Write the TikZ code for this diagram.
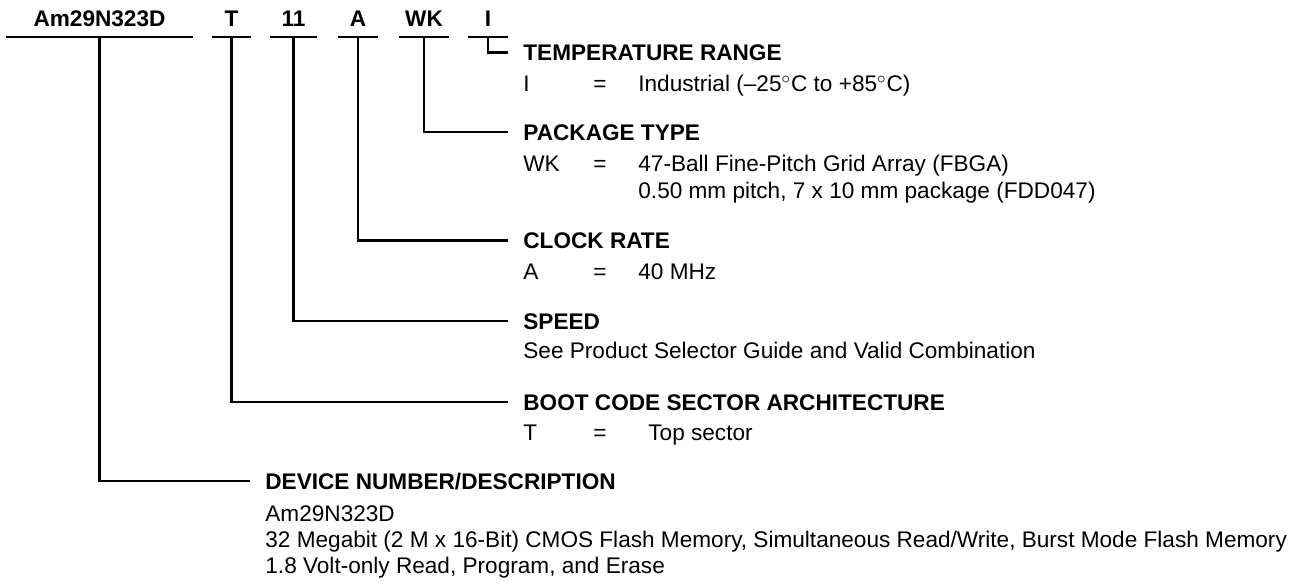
\documentclass[tikz,border=0pt]{standalone}
\usepackage{fontspec}
\setmainfont{Liberation Sans}
\usetikzlibrary{positioning}

\newcommand{\pnfont}{\fontsize{11.3pt}{13.6pt}\selectfont}
\newcommand{\keyval}[2]{\makebox[35pt][l]{#1}\makebox[22.5pt][l]{=}#2}

\tikzset{
  code/.style={font=\pnfont\bfseries, anchor=south, inner xsep=0pt, inner ysep=5pt, text height=8.1pt, text depth=0pt},
  head/.style={font=\pnfont\bfseries, anchor=west, inner sep=0pt, text height=8.1pt, text depth=0pt},
  body/.style={font=\pnfont, anchor=base west, inner sep=0pt},
  lead/.style={line width=1.1pt},
}

\begin{document}
\begin{tikzpicture}[x=0.5pt, y=-0.5pt]
				\useasboundingbox (0,0) rectangle (1302,585);
				% ordering code
				\node[code, minimum width=93.5pt] (pn)    at (99.5,37)  {Am29N323D};
				\node[code, minimum width=19.5pt] (boot)  at (231.5,37) {T};
				\node[code, minimum width=23.5pt] (speed) at (293.5,37) {11};
				\node[code, minimum width=20pt]   (clk)   at (358,37)   {A};
				\node[code, minimum width=25pt]   (pkg)   at (424,37)   {WK};
				\node[code, minimum width=20pt]   (temp)  at (488,37)   {I};
				\draw[lead] (pn.south west) -- (pn.south east);
				\draw[lead] (boot.south west) -- (boot.south east);
				\draw[lead] (speed.south west) -- (speed.south east);
				\draw[lead] (clk.south west) -- (clk.south east);
				\draw[lead] (pkg.south west) -- (pkg.south east);
				\draw[lead] (temp.south west) -- (temp.south east);
				
				% fields
				\node[head] (temphead) at (523,52.5) {TEMPERATURE RANGE};
				\node[body] (tempval) at (523,91) {\keyval{I}{Industrial (--25$^{\circ}$C to +85$^{\circ}$C)}};
				
				\node[head] (pkghead) at (523,132) {PACKAGE TYPE};
				\node[body] (pkgval) at (523,171) {\keyval{WK}{47-Ball Fine-Pitch Grid Array (FBGA)}};
				\node[body] (pkgvalb) at (638,198) {0.50 mm pitch, 7 x 10 mm package (FDD047)};
				
				\node[head] (clkhead) at (523,240.5) {CLOCK RATE};
				\node[body] (clkval) at (523,279) {\keyval{A}{40 MHz}};
				
				\node[head] (speedhead) at (523,321) {SPEED};
				\node[body] (speedval) at (523,358) {See Product Selector Guide and Valid Combination};
				
				\node[head] (boothead) at (523,402) {BOOT CODE SECTOR ARCHITECTURE};
				\node[body] (bootval) at (523,440) {\keyval{T}{\hspace{5pt}Top sector}};
				
				\node[head] (pnhead) at (265,481) {DEVICE NUMBER/DESCRIPTION};
				\node[body] (pnval) at (265,521) {Am29N323D};
				\node[body] (pnvalb) at (265,547) {32 Megabit (2 M x 16-Bit) CMOS Flash Memory, Simultaneous Read/Write, Burst Mode Flash Memory};
				\node[body] (pnvalc) at (265,573) {1.8 Volt-only Read, Program, and Erase};
				
				% leaders
				\draw[lead] (temp.south) |- ([xshift=-7.5pt]temphead.west);
				\draw[lead] (pkg.south) |- ([xshift=-7.5pt]pkghead.west);
				\draw[lead] (clk.south) |- ([xshift=-7.5pt]clkhead.west);
				\draw[lead] (speed.south) |- ([xshift=-7.5pt]speedhead.west);
				\draw[lead] (boot.south) |- ([xshift=-7.5pt]boothead.west);
				\draw[lead] (pn.south) |- ([xshift=-7.5pt]pnhead.west);
\end{tikzpicture}
\end{document}
